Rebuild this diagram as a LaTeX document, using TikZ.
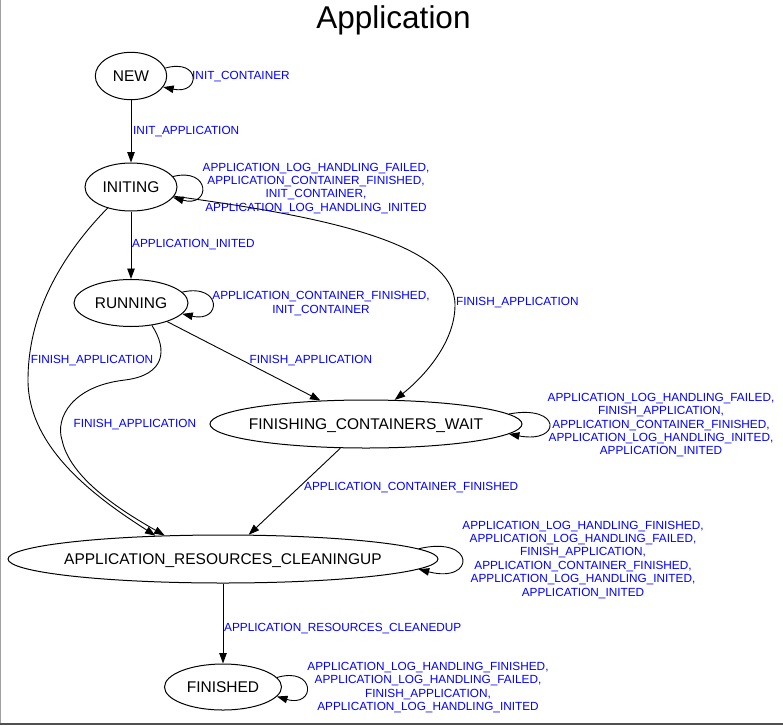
\documentclass[tikz,border=0pt]{standalone}
\usepackage{fontspec}
\setmainfont{Liberation Sans}
\usetikzlibrary{shapes.geometric,arrows.meta}
\definecolor{lblblue}{HTML}{0000FF}
\definecolor{leftgray}{HTML}{A0A0A0}
\definecolor{botgray}{HTML}{505050}
\tikzset{
  state/.style={draw=black, line width=1pt, ellipse, inner sep=0pt, fill=none},
  stname/.style={font=\fontsize{15.5}{17}\selectfont, text height=11.1pt, text depth=0pt, inner sep=0pt},
  edge/.style={draw=black, line width=0.9pt, -{Triangle[length=10.5pt,width=7.5pt]}},
  elabel/.style={text=lblblue, font=\fontsize{11.8}{13.4}\selectfont, inner sep=0pt, align=center},
  titletext/.style={font=\fontsize{31.5}{36}\selectfont, inner sep=0pt, anchor=base}
}
\begin{document}
\begin{tikzpicture}[x=1pt,y=-1pt]
\useasboundingbox (0,0) rectangle (783,725);
\fill[white] (0,0) rectangle (783,725);
\draw[leftgray, line width=1pt] (0.5,0) -- (0.5,724);
\draw[botgray, line width=1.5pt] (0,724) -- (783,724);

\node[titletext] (title) at (393.5,28.5) {Application};

% states
\node[state, minimum width=71.4pt, minimum height=47.4pt, label={[stname]center:NEW}] (NEW) at (131,76) {};
\node[state, minimum width=92pt, minimum height=48pt, label={[stname]center:INITING}] (INIT) at (131,187) {};
\node[state, minimum width=114pt, minimum height=47pt, label={[stname]center:RUNNING}] (RUN) at (131,303) {};
\node[state, minimum width=312pt, minimum height=48pt, label={[stname]center:FINISHING\_CONTAINERS\_WAIT}] (FCW) at (366,424) {};
\node[state, minimum width=430pt, minimum height=48pt, label={[stname]center:APPLICATION\_RESOURCES\_CLEANINGUP}] (CLEAN) at (223,559) {};
\node[state, minimum width=117pt, minimum height=46pt, label={[stname]center:FINISHED}] (FIN) at (223,687) {};

% self loops
\draw[edge] (NEW.13) .. controls (201,58) and (201,95) .. (NEW.-19);
\draw[edge] (INIT.14) .. controls (211,167) and (211,208) .. (INIT.-14);
\draw[edge] (RUN.12) .. controls (222,283) and (222,323) .. (RUN.-12);
\draw[edge] (FCW.4.5) .. controls (562,404) and (562,444) .. (FCW.-4.5);
\draw[edge] (CLEAN.3.2) .. controls (476,535) and (476,584) .. (CLEAN.-3.6);
\draw[edge] (FIN.10.7) .. controls (316,666) and (316,708) .. (FIN.-10.7);

% straight edges
\draw[edge] (NEW) -- (INIT);
\draw[edge] (INIT) -- (RUN);
\draw[edge] (RUN) -- (FCW);
\draw[edge] (FCW) -- (CLEAN);
\draw[edge] (CLEAN) -- (FIN);

% curved edges
\draw[edge] (INIT.-12) .. controls (310,215) and (455,240) .. (455,305)
  .. controls (455,345) and (420,380) .. (FCW.40);
\draw[edge] (INIT.222) .. controls (55,262) and (28,320) .. (28,380)
  .. controls (28,450) and (100,500) .. (CLEAN.161);
\draw[edge] (RUN.-47) .. controls (168,350) and (165,375) .. (125,380)
  .. controls (72,386) and (55,418) .. (62,440)
  .. controls (70,478) and (120,510) .. (CLEAN.158);

% labels
\node[elabel, anchor=west] (lNEW) at (192,77) {INIT\_CONTAINER};
\node[elabel, anchor=west] (lNI) at (133,132) {INIT\_APPLICATION};
\node[elabel] (lINIT) at (316,188.2) {APPLICATION\_LOG\_HANDLING\_FAILED,\\APPLICATION\_CONTAINER\_FINISHED,\\INIT\_CONTAINER,\\APPLICATION\_LOG\_HANDLING\_INITED};
\node[elabel, anchor=west] (lIR) at (132,245) {APPLICATION\_INITED};
\node[elabel] (lRUN) at (321,303.7) {APPLICATION\_CONTAINER\_FINISHED,\\INIT\_CONTAINER};
\node[elabel, anchor=west] (lIF) at (456,303) {FINISH\_APPLICATION};
\node[elabel, anchor=west] (lRF) at (249.5,361) {FINISH\_APPLICATION};
\node[elabel, anchor=west] (lIC) at (30.6,361) {FINISH\_APPLICATION};
\node[elabel, anchor=west] (lRC) at (73.5,425) {FINISH\_APPLICATION};
\node[elabel] (lFCW) at (661,425.2) {APPLICATION\_LOG\_HANDLING\_FAILED,\\FINISH\_APPLICATION,\\APPLICATION\_CONTAINER\_FINISHED,\\APPLICATION\_LOG\_HANDLING\_INITED,\\APPLICATION\_INITED};
\node[elabel, anchor=west] (lFC) at (304,488) {APPLICATION\_CONTAINER\_FINISHED};
\node[elabel] (lCLEAN) at (583,559.7) {APPLICATION\_LOG\_HANDLING\_FINISHED,\\APPLICATION\_LOG\_HANDLING\_FAILED,\\FINISH\_APPLICATION,\\APPLICATION\_CONTAINER\_FINISHED,\\APPLICATION\_LOG\_HANDLING\_INITED,\\APPLICATION\_INITED};
\node[elabel, anchor=west] (lCF) at (224,629) {APPLICATION\_RESOURCES\_CLEANEDUP};
\node[elabel] (lFIN) at (428,687.7) {APPLICATION\_LOG\_HANDLING\_FINISHED,\\APPLICATION\_LOG\_HANDLING\_FAILED,\\FINISH\_APPLICATION,\\APPLICATION\_LOG\_HANDLING\_INITED};
\end{tikzpicture}
\end{document}
